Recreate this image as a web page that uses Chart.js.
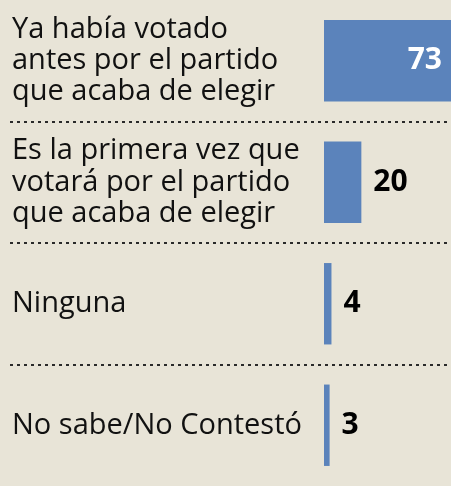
<!DOCTYPE html>
<html>
<head>
<meta charset="utf-8">
<script src="https://cdn.jsdelivr.net/npm/chart.js@4.4.1/dist/chart.umd.min.js"></script>
<style>
  html, body { margin: 0; padding: 0; background: #e8e4d7; }
  #wrap { width: 451px; height: 486px; overflow: hidden; }
</style>
</head>
<body>
<div id="wrap"><canvas id="voteChart" width="451" height="486"></canvas></div>
<script>
// Chart data
const categories = [
    ['Ya había votado', 'antes por el partido', 'que acaba de elegir'],
    ['Es la primera vez que', 'votará por el partido', 'que acaba de elegir'],
    ['Ninguna'],
    ['No sabe/No Contestó']
];
const values = [73, 20, 4, 3];
const xMax = 68;

const fontFamily = '"Open Sans", "Noto Sans", sans-serif';

// dotted separators + value labels
const extrasPlugin = {
    id: 'extras',
    afterDatasetsDraw(chart) {
        const ctx = chart.ctx;
        const yScale = chart.scales.y;
        const area = chart.chartArea;
        ctx.save();
        ctx.strokeStyle = '#2a2a2a';
        ctx.lineWidth = 2;
        ctx.setLineDash([3, 4]);
        for (let i = 0; i < categories.length - 1; i++) {
            const y = Math.round((yScale.getPixelForValue(i) + yScale.getPixelForValue(i + 1)) / 2);
            ctx.beginPath();
            ctx.moveTo(10, y);
            ctx.lineTo(chart.width, y);
            ctx.stroke();
        }
        ctx.setLineDash([]);

        const meta = chart.getDatasetMeta(0);
        ctx.font = 'bold 30px ' + fontFamily;
        ctx.textBaseline = 'middle';
        meta.data.forEach((bar, i) => {
            const v = values[i];
            if (v > xMax) {
                ctx.fillStyle = '#ffffff';
                ctx.textAlign = 'right';
                ctx.fillText(String(v), area.right - 9, bar.y);
            } else {
                ctx.fillStyle = '#000000';
                ctx.textAlign = 'left';
                ctx.fillText(String(v), bar.x + 12, bar.y);
            }
        });
        ctx.restore();
    }
};

new Chart(document.getElementById('voteChart'), {
    type: 'bar',
    data: {
        labels: categories,
        datasets: [{
            data: values,
            backgroundColor: '#5b83bb',
            borderWidth: 0,
            categoryPercentage: 1,
            barPercentage: 0.67
        }]
    },
    options: {
        indexAxis: 'y',
        responsive: false,
        animation: false,
        layout: { padding: { left: 12, right: 0, top: -5, bottom: -4 } },
        plugins: {
            legend: { display: false },
            tooltip: { enabled: false }
        },
        scales: {
            x: {
                display: false,
                min: 0,
                max: xMax
            },
            y: {
                grid: { display: false },
                border: { display: false },
                afterFit(scale) {
                    scale.width = 312;
                    scale.paddingTop = 0;
                    scale.paddingBottom = 0;
                },
                ticks: {
                    crossAlign: 'far',
                    color: '#111111',
                    font: { family: fontFamily, size: 29, lineHeight: 1.07 },
                    padding: 0
                }
            }
        }
    },
    plugins: [extrasPlugin]
});
</script>
</body>
</html>
